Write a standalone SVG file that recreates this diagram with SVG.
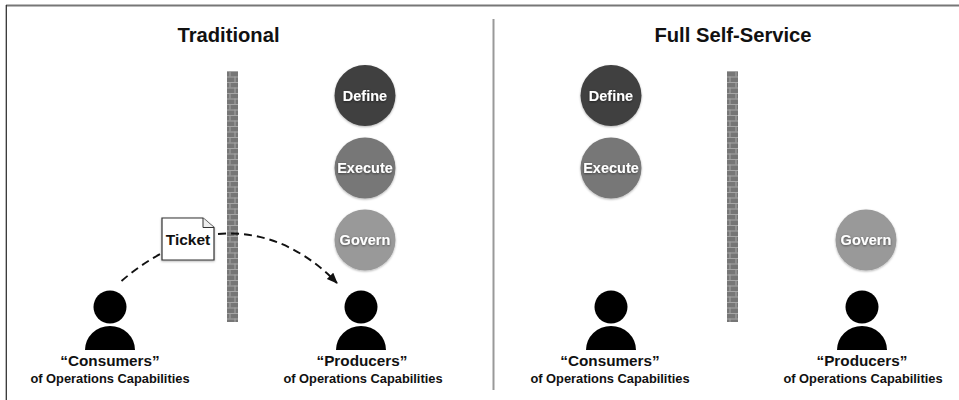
<svg xmlns="http://www.w3.org/2000/svg" width="959" height="400" viewBox="0 0 959 400">
<style>
text{font-family:"Liberation Sans",Arial,sans-serif;font-weight:bold;text-anchor:middle;fill:#111}
.t{font-size:20.2px}.n{font-size:14.5px;fill:#fff;filter:url(#ts)}.c{font-size:15.3px}.s{font-size:12.85px}
.p{fill:#000}.d{fill:#404040}.e{fill:#777}.g{fill:#999}
.l{fill:none;stroke:#111;stroke-width:1.9;stroke-dasharray:8 5}
</style>
<defs>
<pattern id="brick" width="11" height="11" patternUnits="userSpaceOnUse" x="227" y="71">
<rect width="11" height="11" fill="#767676"/>
<path d="M0 .5H11M0 6H11M3 0V5.500M8 5.500V11" stroke="#a6a6a6" stroke-width="1" fill="none"/>
</pattern>
<marker id="ah" markerWidth="12" markerHeight="10" refX="10" refY="4.500" orient="auto" markerUnits="userSpaceOnUse"><path d="M0 0L11 4.500L0 9Z" fill="#111"/></marker>
<filter id="sh" x="-10%" y="-10%" width="120%" height="125%"><feDropShadow dx="0" dy="1" stdDeviation="1" flood-color="#000" flood-opacity=".3"/></filter>
<filter id="ts" x="-10%" y="-20%" width="120%" height="150%"><feDropShadow dx="0" dy=".8" stdDeviation=".8" flood-color="#000" flood-opacity=".55"/></filter>
<g id="person"><circle cx="0" cy="-41" r="16.5" class="p"/><path d="M-25 2A25 24 0 0 1 25 2Z" class="p"/></g>
</defs>
<rect width="959" height="400" fill="#fff"/>
<path d="M6 5.500H959" fill="none" stroke="#777" stroke-width="2"/>
<path d="M6.300 5V400" fill="none" stroke="#333" stroke-width="1.3"/>
<path d="M493.500 19V390" stroke="#999" stroke-width="2" fill="none"/>
<text class="t" x="228.500" y="42">Traditional</text>
<text class="t" x="733" y="42">Full Self-Service</text>
<g id="wall-left"><rect x="227" y="71" width="11" height="251" fill="url(#brick)"/></g>
<g id="wall-right"><rect x="727" y="71" width="11" height="251" fill="url(#brick)"/></g>
<g id="connectors">
<path class="l" d="M121.500 281Q140 265 162 253"/>
<path class="l" d="M218 234C265 230 305 250 337 283" marker-end="url(#ah)"/>
</g>
<g id="define-left"><circle cx="365" cy="95.500" r="30.500" class="d" filter="url(#sh)"/><text class="n" x="365" y="101">Define</text></g>
<g id="execute-left"><circle cx="365" cy="168" r="30.500" class="e" filter="url(#sh)"/><text class="n" x="365" y="173">Execute</text></g>
<g id="govern-left"><circle cx="365" cy="240" r="30.500" class="g" filter="url(#sh)"/><text class="n" x="365" y="245">Govern</text></g>
<g id="define-right"><circle cx="611" cy="95.500" r="30.500" class="d" filter="url(#sh)"/><text class="n" x="611" y="101">Define</text></g>
<g id="execute-right"><circle cx="611" cy="168" r="30.500" class="e" filter="url(#sh)"/><text class="n" x="611" y="173">Execute</text></g>
<g id="govern-right"><circle cx="866" cy="240" r="30.500" class="g" filter="url(#sh)"/><text class="n" x="866" y="245">Govern</text></g>
<g id="ticket"><path d="M162 218H203L214 227.500V260H162Z" fill="#fff" stroke="#333" stroke-width="1.2" filter="url(#sh)"/><path d="M203 218V227.500H214" fill="#eee" stroke="#333" stroke-width="1"/><text x="188" y="244.500" style="font-size:15.5px">Ticket</text></g>
<g id="consumers-left"><use href="#person" x="110" y="348"/><text class="c" x="110" y="366">“Consumers”</text><text class="s" x="110" y="382.700">of Operations Capabilities</text></g>
<g id="producers-left"><use href="#person" x="361" y="348"/><text class="c" x="362" y="366">“Producers”</text><text class="s" x="363" y="382.700">of Operations Capabilities</text></g>
<g id="consumers-right"><use href="#person" x="611" y="348"/><text class="c" x="610" y="366">“Consumers”</text><text class="s" x="610" y="382.700">of Operations Capabilities</text></g>
<g id="producers-right"><use href="#person" x="862" y="348"/><text class="c" x="862" y="366">“Producers”</text><text class="s" x="863" y="382.700">of Operations Capabilities</text></g>
</svg>
